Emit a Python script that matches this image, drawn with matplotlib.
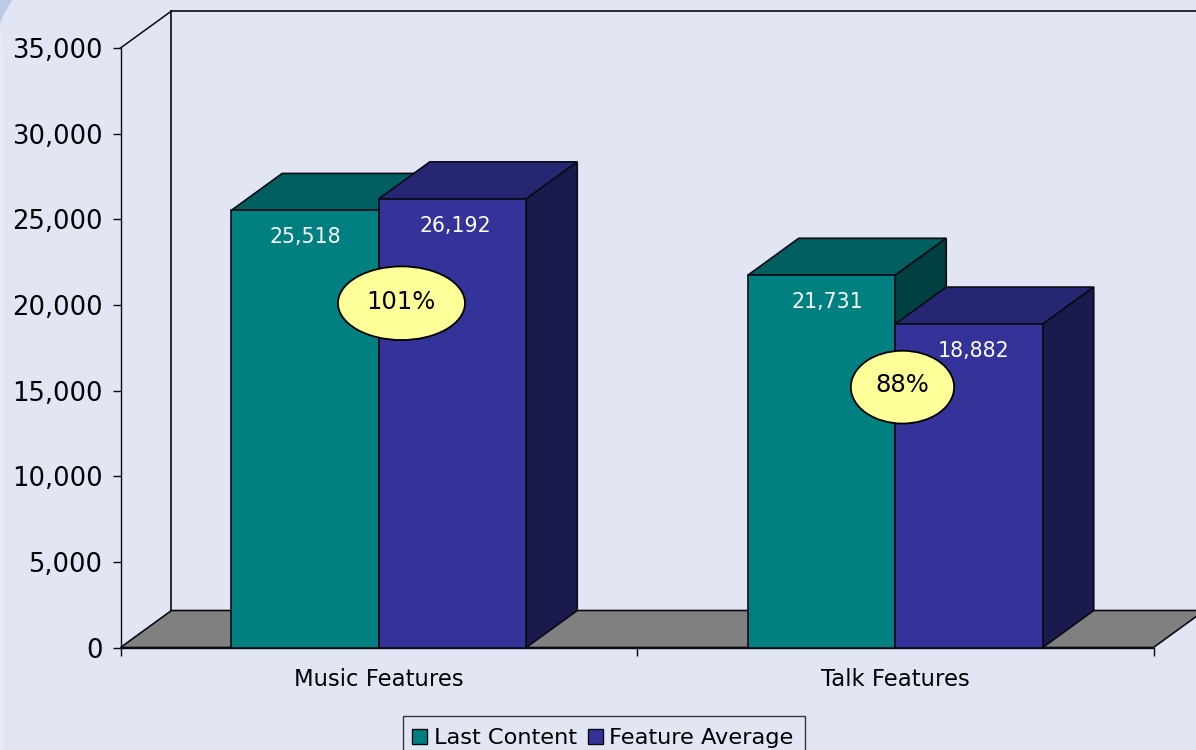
import matplotlib
matplotlib.use("Agg")
import matplotlib.pyplot as plt
from matplotlib.patches import Ellipse, Polygon, Patch, Rectangle

# values
categories = ["Music Features", "Talk Features"]
last_content = [25518, 21731]
feature_average = [26192, 18882]
ratio_labels = ["101%", "88%"]
ytick_values = [0, 5000, 10000, 15000, 20000, 25000, 30000, 35000]

# colours
BG = "#E1E5F4"
TEAL = ("#008080", "#006060", "#004040")
BLUE = ("#333399", "#262673", "#1A1A4D")
FLOOR = "#808080"
BUBBLE = "#FFFF99"
LINE = "#0A0A14"

# layout, in data units of the front plane
YMAX = 35000
BAR_W = 0.2856
DEPTH_X = 0.0987
DEPTH_Y = 2160
LABEL_DROP = -27
LABEL_SHIFT = [[0, 3], [6, 4]]
BUBBLE_X = [0.544, 1.514]
BUBBLE_Y = [20100, 15200]
BUBBLE_W = [0.246, 0.2]
BUBBLE_H = [4300, 4250]

plt.rcParams["font.family"] = ["DejaVu Sans"]

fig = plt.figure(figsize=(11.96, 7.5), dpi=100, facecolor=BG)
ax = fig.add_axes([120.5 / 1196, 102.5 / 750, 1033 / 1196, 599.5 / 750])
ax.set_facecolor("none")
ax.set_xlim(0, 2)
ax.set_ylim(0, YMAX)

# pale corner of the slide behind the chart
fig.patches.append(Polygon([(0, 1), (0, 0.968), (0.003, 0.98), (0.010, 1)], closed=True,
                           transform=fig.transFigure, facecolor="#BCCAE8", edgecolor="none"))
fig.patches.append(Polygon([(0, 0.968), (0.003, 0.93), (0.003, 0), (0, 0)], closed=True,
                           transform=fig.transFigure, facecolor="#E6EBF7", edgecolor="none"))

# back wall and floor
ax.plot([DEPTH_X, DEPTH_X], [DEPTH_Y, YMAX + DEPTH_Y], color=LINE, lw=1.2, clip_on=False, zorder=1)
ax.plot([DEPTH_X, 2 + DEPTH_X], [YMAX + DEPTH_Y, YMAX + DEPTH_Y], color=LINE, lw=1.2, clip_on=False, zorder=1)
ax.plot([0, DEPTH_X], [YMAX, YMAX + DEPTH_Y], color=LINE, lw=1.1, clip_on=False, zorder=1)
ax.add_patch(Polygon([(0, 0), (DEPTH_X, DEPTH_Y), (2 + DEPTH_X, DEPTH_Y), (2, 0)], closed=True,
                     facecolor=FLOOR, edgecolor=LINE, lw=1.2, clip_on=False, zorder=2))


def draw_bar(x, value, colours, z):
    left = x - BAR_W / 2
    right = x + BAR_W / 2
    ax.bar(x, value, width=BAR_W, color=colours[0], edgecolor=LINE, lw=1.2, zorder=z + 0.2, clip_on=False)
    ax.add_patch(Polygon([(left, value), (left + DEPTH_X, value + DEPTH_Y),
                          (right + DEPTH_X, value + DEPTH_Y), (right, value)], closed=True,
                         facecolor=colours[1], edgecolor=LINE, lw=1.2, zorder=z, clip_on=False))
    ax.add_patch(Polygon([(right, 0), (right + DEPTH_X, DEPTH_Y),
                          (right + DEPTH_X, value + DEPTH_Y), (right, value)], closed=True,
                         facecolor=colours[2], edgecolor=LINE, lw=1.2, zorder=z, clip_on=False))


for i in range(len(categories)):
    centre = i + 0.5
    x_a = centre - BAR_W / 2
    x_b = centre + BAR_W / 2
    draw_bar(x_a, last_content[i], TEAL, 3 + i * 2)
    draw_bar(x_b, feature_average[i], BLUE, 4 + i * 2)

    ax.annotate(f"{last_content[i]:,}", (x_a, last_content[i]), xytext=(LABEL_SHIFT[i][0] * 0.72, LABEL_DROP * 0.72),
                textcoords="offset points", ha="center", va="center", color="white", fontsize=14.8, zorder=10)
    ax.annotate(f"{feature_average[i]:,}", (x_b, feature_average[i]), xytext=(LABEL_SHIFT[i][1] * 0.72, LABEL_DROP * 0.72),
                textcoords="offset points", ha="center", va="center", color="white", fontsize=14.8, zorder=10)

    ax.add_patch(Ellipse((BUBBLE_X[i], BUBBLE_Y[i]), BUBBLE_W[i], BUBBLE_H[i], facecolor=BUBBLE,
                         edgecolor="black", lw=1.3, zorder=11))
    ax.text(BUBBLE_X[i], BUBBLE_Y[i] + 100, ratio_labels[i], ha="center", va="center", fontsize=17.5, color="black", zorder=12)

# axes
for side in ["top", "right"]:
    ax.spines[side].set_visible(False)
for side in ["left", "bottom"]:
    ax.spines[side].set_linewidth(1.0)
    ax.spines[side].set_color(LINE)
    ax.spines[side].set_zorder(2.5)

ax.set_yticks(ytick_values)
ax.set_yticklabels([f"{v:,}" for v in ytick_values])
ax.tick_params(axis="y", length=6, width=1.0, pad=7, labelsize=18.6, color=LINE, labelcolor="black")
ax.set_xticks([0, 1, 2])
ax.set_xticklabels(["", "", ""])
ax.tick_params(axis="x", which="major", length=6, width=1.0, color=LINE)
ax.set_xticks([0.5, 1.5], minor=True)
ax.set_xticklabels(categories, minor=True)
ax.tick_params(axis="x", which="minor", length=0, pad=15, labelsize=16.4, labelcolor="black")

# legend box runs off the bottom of the picture
fig.patches.append(Rectangle((403 / 1196, -0.02), 402 / 1196, 0.02 + 34 / 750, transform=fig.transFigure,
                             facecolor=BG, edgecolor="#333344", lw=1.0))
handles = [Patch(facecolor=TEAL[0], edgecolor=LINE, lw=1.0), Patch(facecolor=BLUE[0], edgecolor=LINE, lw=1.0)]
leg = fig.legend(handles, ["Last Content", "Feature Average"], ncol=2, loc="upper left",
                 bbox_to_anchor=(403 / 1196, 1 - 719 / 750), borderaxespad=0, fontsize=16.2,
                 frameon=False, handlelength=0.65, handleheight=0.65,
                 handletextpad=0.3, columnspacing=0.5, borderpad=0.42)

fig.savefig("out.png", dpi=100, facecolor=BG)
